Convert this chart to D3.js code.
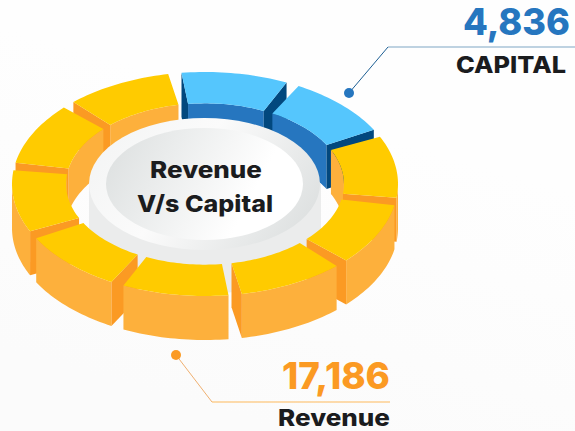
<!DOCTYPE html>
<html><head><meta charset="utf-8">
<style>html,body{margin:0;padding:0;background:#fff;overflow:hidden}svg{display:block}text{font-family:Inter,"Open Sans",sans-serif;font-weight:800}</style>
<script src="https://cdn.jsdelivr.net/npm/d3@7"></script></head>
<body><svg id="c" width="575" height="431"></svg>
<script>
const categories = ["CAPITAL", "Revenue"];
const values = [4836, 17186];
const centerLines = ["Revenue", "V/s Capital"];
const segmentTotal = 10;

const W = 575, H = 431, cx = 205, cy = 184, depth = 44;
const rxScale = d3.scaleLinear().domain([0, 1]).range([0, 193]);
const ryScale = d3.scaleLinear().domain([0, 1]).range([0, 112]);
const R_OUT = 1, R_IN = 0.72;
const toRad = d3.scaleLinear().domain([0, 180]).range([0, Math.PI]);
const palette = {
  CAPITAL: {top: "#55C6FD", wall: "#2676BF", end: "#02487E", inner: "#2676BF"},
  Revenue: {top: "#FFCB00", wall: "#FDB03C", end: "#FB9A23", inner: "#FDB03C"}
};

const total = d3.sum(values);
const capitalUnits = Math.round(values[0] / total * segmentTotal);
const units = d3.range(segmentTotal).map(i => ({cat: i < capitalUnits ? categories[0] : categories[1]}));
const PAD = toRad(4);
const pie = d3.pie().value(1).sort(null).startAngle(toRad(-7)).endAngle(toRad(353));
const segs = pie(units).map(d => ({cat: d.data.cat, a0: d.startAngle, a1: d.endAngle - PAD}));

const px = (r, a) => cx + rxScale(r) * Math.sin(a);
const py = (r, a, z = 0) => cy - ryScale(r) * Math.cos(a) + z;
const line = d3.line().x(d => d[0]).y(d => d[1]);
const arcPts = (r, a0, a1, z = 0) => d3.range(0, 25).map(i => {
  const a = a0 + (a1 - a0) * i / 24;
  return [px(r, a), py(r, a, z)];
});
const norm = a => ((a % (2 * Math.PI)) + 2 * Math.PI) % (2 * Math.PI);
const wallPath = (r, a0, a1) => line([...arcPts(r, a0, a1), ...arcPts(r, a0, a1, depth).reverse()]) + "Z";

const svg = d3.select("#c");
const defs = svg.append("defs");
const bg = defs.append("linearGradient").attr("id", "bg").attr("x1", 0.75).attr("y1", 0.35).attr("x2", 0.5).attr("y2", 1);
bg.append("stop").attr("offset", 0).attr("stop-color", "#fefefe");
bg.append("stop").attr("offset", 1).attr("stop-color", "#fbfbfb");
const g1 = defs.append("linearGradient").attr("id", "face").attr("x1", 0).attr("y1", 0.35).attr("x2", 1).attr("y2", 0.65);
g1.append("stop").attr("offset", 0).attr("stop-color", "#dfe2e2");
g1.append("stop").attr("offset", 0.75).attr("stop-color", "#ffffff");
g1.append("stop").attr("offset", 1).attr("stop-color", "#ffffff");
const g2 = defs.append("linearGradient").attr("id", "rim").attr("x1", 0).attr("y1", 0.3).attr("x2", 1).attr("y2", 0.7);
g2.append("stop").attr("offset", 0).attr("stop-color", "#f4f5f5");
g2.append("stop").attr("offset", 0.4).attr("stop-color", "#fbfbfb");
g2.append("stop").attr("offset", 1).attr("stop-color", "#dde0e0");

svg.append("rect").attr("width", W).attr("height", H).attr("fill", "url(#bg)");

function drawSeg(g, s) {
  const c = palette[s.cat];
  const a0 = norm(s.a0), a1 = a0 + (s.a1 - s.a0);
  const sg = g.append("g");
  [[a0, Math.min(a1, Math.PI / 2)], [Math.max(a0, 1.5 * Math.PI), Math.min(a1, 2.5 * Math.PI)]].forEach(([p, q]) => {
    if (q > p) sg.append("path").attr("d", wallPath(R_IN, p, q)).attr("fill", c.inner);
  });
  const p = Math.max(a0, Math.PI / 2), q = Math.min(a1, 1.5 * Math.PI);
  if (q > p) sg.append("path").attr("d", wallPath(R_OUT, p, q)).attr("fill", c.wall);
  const endWall = a => line([[px(R_IN, a), py(R_IN, a)], [px(R_OUT, a), py(R_OUT, a)],
    [px(R_OUT, a), py(R_OUT, a, depth)], [px(R_IN, a), py(R_IN, a, depth)]]) + "Z";
  if (Math.sin(a0) < 0) sg.append("path").attr("d", endWall(a0)).attr("fill", c.end);
  if (Math.sin(a1) > 0) sg.append("path").attr("d", endWall(a1)).attr("fill", c.end);
  sg.append("path").attr("d", line([...arcPts(R_OUT, a0, a1), ...arcPts(R_IN, a0, a1).reverse()]) + "Z").attr("fill", c.top);
}

const mid = s => Math.cos((s.a0 + s.a1) / 2);
const ordered = segs.slice().sort((a, b) => mid(b) - mid(a));
const back = ordered.filter(s => mid(s) > 0), front = ordered.filter(s => mid(s) <= 0);
const ringBack = svg.append("g");
back.forEach(s => drawSeg(ringBack, s));

const hub = svg.append("g");
hub.append("path").attr("d", `M${cx - 116},${cy}V${cy + depth}A116,66 0 0 0 ${cx + 116},${cy + depth}V${cy}Z`).attr("fill", "#ebecec");
hub.append("ellipse").attr("cx", cx - 0.5).attr("cy", cy).attr("rx", 115.5).attr("ry", 66).attr("fill", "url(#rim)");
hub.append("ellipse").attr("cx", cx - 0.5).attr("cy", cy).attr("rx", 98.5).attr("ry", 56).attr("fill", "url(#face)");

const ringFront = svg.append("g");
front.forEach(s => drawSeg(ringFront, s));

const fit = (sel, x0, x1) => sel.attr("x", x0).attr("textLength", x1 - x0).attr("lengthAdjust", "spacingAndGlyphs");

const centerX = [[150, 262], [137, 273]];
svg.append("g").selectAll("text").data(centerLines).join("text")
  .attr("y", (d, i) => 178 + i * 34)
  .attr("font-size", 23).attr("fill", "#1b1c1e").text(d => d)
  .each(function (d, i) { fit(d3.select(this), centerX[i][0], centerX[i][1]); });

const callouts = [
  {pts: [[349, 93], [388, 47], [575, 47]], color: "#2676BF", lineC: "#1d5f94", hr: "#7fa6c4", vx: [463, 570], vy: 35, lx: [456, 566], ly: 73},
  {pts: [[176, 355], [212, 402], [390, 402]], color: "#FB9A23", lineC: "#f0b070", hr: "#fdb95c", vx: [282, 390], vy: 388.5, lx: [278, 390], ly: 426}
];
callouts.forEach((c, i) => {
  const g = svg.append("g");
  g.append("path").attr("d", line(c.pts.slice(0, 2))).attr("stroke", c.lineC).attr("fill", "none").attr("stroke-width", 1);
  g.append("path").attr("d", line(c.pts.slice(1))).attr("stroke", c.hr).attr("fill", "none").attr("stroke-width", 1.2);
  g.append("circle").attr("cx", c.pts[0][0]).attr("cy", c.pts[0][1]).attr("r", 5).attr("fill", c.color);
  fit(g.append("text").attr("y", c.vy).attr("font-size", 37).attr("fill", c.color).text(d3.format(",")(values[i])), c.vx[0], c.vx[1]);
  fit(g.append("text").attr("y", c.ly).attr("font-size", 22.5).attr("fill", "#1b1c1e").text(categories[i]), c.lx[0], c.lx[1]);
});
</script></body></html>
